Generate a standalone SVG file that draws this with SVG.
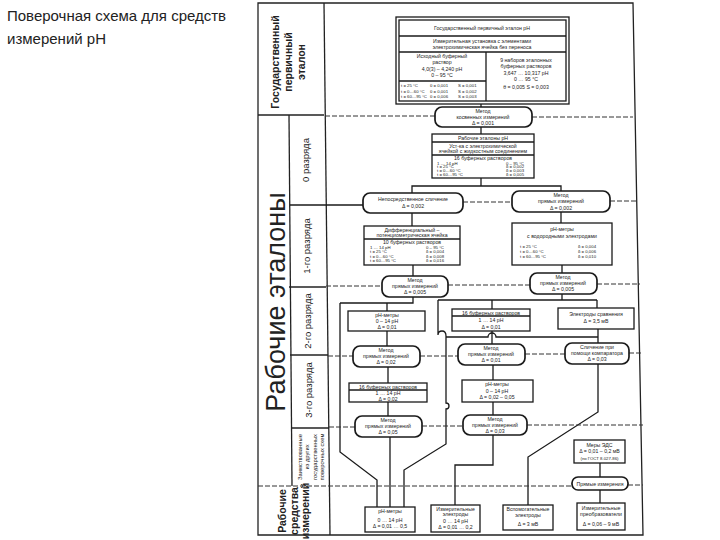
<svg xmlns="http://www.w3.org/2000/svg" width="720" height="540" viewBox="0 0 720 540">
<style>
.frame{fill:none;stroke:#222;stroke-width:1.3}
.box{fill:#fff;stroke:#1a1a1a;stroke-width:1.3}
.rbox{fill:#fff;stroke:#1a1a1a;stroke-width:1.7}
.ln{fill:none;stroke:#1a1a1a;stroke-width:1.3}
.dl{fill:none;stroke:#333;stroke-width:1;stroke-dasharray:5 2}
text{font-family:"Liberation Sans",Arial,sans-serif;fill:#222}
.t{font-size:5.2px;text-anchor:middle}
.s{font-size:4.3px}
.l{text-anchor:start}
.m{text-anchor:middle}
.big{font-size:27px;text-anchor:middle}
.lab{font-size:9.5px;text-anchor:middle}
.hd{font-size:10.5px;font-weight:bold;text-anchor:middle}
.zs{font-size:5.8px;text-anchor:middle}
</style>
<rect width="720" height="540" fill="#fff"/>

<g id="title">
<text x="7" y="21" font-size="15">Поверочная  схема для средств</text>
<text x="7" y="44" font-size="15">измерений pH</text>
</g>

<g id="frame">
<polygon class="frame" points="258,3 633,3 643,535 258,535"/>
<line class="frame" x1="324" y1="3" x2="330" y2="535"/>
<line class="frame" x1="258" y1="115" x2="324" y2="115"/>
<line class="frame" x1="289" y1="115" x2="292" y2="486"/>
<line class="frame" x1="289" y1="287" x2="326" y2="287"/>
<line class="frame" x1="290" y1="355" x2="328" y2="355"/>
<line class="frame" x1="291" y1="428" x2="329" y2="428"/>
</g>

<g id="labels">
<text class="hd" transform="translate(279,62) rotate(-90)">Государственный</text>
<text class="hd" transform="translate(292,62) rotate(-90)">первичный</text>
<text class="hd" transform="translate(305,62) rotate(-90)">эталон</text>
<text class="big" transform="translate(285,302) rotate(-90)">Рабочие эталоны</text>
<text class="lab" transform="translate(309,160) rotate(-90)">0 разряда</text>
<text class="lab" transform="translate(310,246) rotate(-90)">1-го разряда</text>
<text class="lab" transform="translate(311,321) rotate(-90)">2-го разряда</text>
<text class="lab" transform="translate(312,390) rotate(-90)">3-го разряда</text>
<text class="zs" transform="translate(302,457) rotate(-90)">Заимствованные</text>
<text class="zs" transform="translate(309,457) rotate(-90)">из других</text>
<text class="zs" transform="translate(317,457) rotate(-90)">государственных</text>
<text class="zs" transform="translate(324,457) rotate(-90)">поверочных схем</text>
<text class="hd" font-size="8.8" transform="translate(286,511) rotate(-90)">Рабочие</text>
<text class="hd" font-size="8.8" transform="translate(298,511) rotate(-90)">средства</text>
<text class="hd" font-size="8.8" transform="translate(309,511) rotate(-90)">измерений</text>
</g>

<g id="connectors">
<line class="ln" x1="290" y1="205" x2="363" y2="205"/>
<line class="ln" x1="481" y1="104" x2="481" y2="107"/>
<line class="ln" x1="481" y1="127" x2="481" y2="134"/>
<polyline class="ln" points="481,178 481,186"/>
<polyline class="ln" points="412,193 412,186 561,186 561,191"/>
<line class="ln" x1="412" y1="213" x2="412" y2="226"/>
<line class="ln" x1="561" y1="212" x2="561" y2="223"/>
<line class="ln" x1="413" y1="265" x2="413" y2="276"/>
<line class="ln" x1="562" y1="265" x2="562" y2="273"/>
<polyline class="ln" points="413,297 413,303 340,303"/>
<line class="ln" x1="387" y1="303" x2="387" y2="311"/>
<polyline class="ln" points="340,303 340,452 377,480 377,507"/>
<line class="ln" x1="387" y1="331" x2="387" y2="346"/>
<line class="ln" x1="388" y1="367" x2="388" y2="383"/>
<line class="ln" x1="388" y1="402" x2="388" y2="416"/>
<line class="ln" x1="390" y1="437" x2="390" y2="507"/>
<polyline class="ln" points="562,294 562,300"/>
<line class="ln" x1="438" y1="300" x2="597" y2="300"/>
<line class="ln" x1="492" y1="300" x2="492" y2="309"/>
<line class="ln" x1="597" y1="300" x2="597" y2="308"/>
<path class="ln" d="M438,300 L438,335 Q438,331 442,331 Q446,331 446,336 L446,403 A3,3 0 0 1 446,409 L446,444 L404,470 L404,507"/>
<path class="ln" d="M446,337 L488,337 A4,4 0 0 1 496,337 L598,337"/>
<line class="ln" x1="598" y1="329" x2="598" y2="343"/>
<line class="ln" x1="492" y1="331" x2="492" y2="344"/>
<line class="ln" x1="493" y1="365" x2="493" y2="380"/>
<line class="ln" x1="493" y1="402" x2="493" y2="415"/>
<polyline class="ln" points="493,435 493,465 455,465 455,505"/>
<polyline class="ln" points="598,364 598,412 528,457 528,505"/>
<line class="ln" x1="600" y1="463" x2="600" y2="477"/>
<line class="ln" x1="600" y1="490" x2="600" y2="503"/>

<line class="dl" x1="325" y1="116" x2="435" y2="116"/>
<line class="dl" x1="532" y1="117" x2="633" y2="117"/>
<line class="dl" x1="463" y1="202" x2="512" y2="202"/>
<line class="dl" x1="610" y1="201" x2="636" y2="201"/>
<line class="dl" x1="326" y1="286" x2="382" y2="286"/>
<line class="dl" x1="448" y1="285" x2="530" y2="285"/>
<line class="dl" x1="597" y1="284" x2="640" y2="284"/>
<line class="dl" x1="328" y1="356" x2="353" y2="356"/>
<line class="dl" x1="420" y1="356" x2="458" y2="356"/>
<line class="dl" x1="525" y1="354" x2="565" y2="354"/>
<line class="dl" x1="629" y1="353" x2="641" y2="353"/>
<line class="dl" x1="329" y1="427" x2="355" y2="427"/>
<line class="dl" x1="422" y1="426" x2="463" y2="426"/>
<line class="dl" x1="527" y1="425" x2="643" y2="425"/>
<line class="dl" x1="258" y1="486" x2="572" y2="486"/>
<line class="dl" x1="628" y1="485" x2="643" y2="485"/>
</g>

<g id="n-state">
<rect class="box" x="396" y="17" width="173" height="87" stroke-width="1.8"/>
<rect class="box" x="399" y="20" width="167" height="81"/>
<line class="ln" x1="399" y1="36" x2="566" y2="36"/>
<line class="ln" x1="399" y1="52" x2="566" y2="52"/>
<line class="ln" x1="486" y1="52" x2="486" y2="101"/>
<line class="ln" x1="399" y1="81" x2="486" y2="81"/>
<text class="t" x="482" y="30">Государственный первичный эталон pH</text>
<text class="t" x="482" y="43">Измерительная установка с элементами</text>
<text class="t" x="482" y="49">электрохимическая ячейка без переноса</text>
<text class="t" x="442" y="58">Исходный буферный</text>
<text class="t" x="442" y="64">раствор</text>
<text class="t" x="442" y="71">4,0(3) – 4,240 pH</text>
<text class="t" x="442" y="77">0 – 95 °C</text>
<text class="t s l" x="401" y="87">t = 25 °C</text>
<text class="t s l" x="401" y="92.5">t = 0…60 °C</text>
<text class="t s l" x="401" y="98">t = 60…95 °C</text>
<text class="t s l" x="430" y="87">θ = 0,001</text>
<text class="t s l" x="430" y="92.5">θ = 0,001</text>
<text class="t s l" x="430" y="98">θ = 0,006</text>
<text class="t s l" x="458" y="87">S = 0,001</text>
<text class="t s l" x="458" y="92.5">S = 0,002</text>
<text class="t s l" x="458" y="98">S = 0,003</text>
<text class="t" x="526" y="62">9 наборов эталонных</text>
<text class="t" x="526" y="68">буферных растворов</text>
<text class="t" x="526" y="75">3,647 … 10,317 pH</text>
<text class="t" x="526" y="81">0 … 95 °C</text>
<text class="t" x="526" y="89">θ = 0,005   S = 0,003</text>
</g>

<g id="n-m1">
<rect class="rbox" x="435" y="107" width="97" height="20" rx="7"/>
<text class="t" x="483" y="113">Метод</text>
<text class="t" x="483" y="119">косвенных измерений</text>
<text class="t" x="483" y="125">Δ = 0,001</text>
</g>

<g id="n-ws0">
<rect class="box" x="432" y="134" width="102" height="44"/>
<line class="ln" x1="432" y1="142" x2="534" y2="142"/>
<line class="ln" x1="432" y1="155" x2="534" y2="155"/>
<text class="t" x="483" y="140">Рабочие эталоны pH</text>
<text class="t" x="483" y="147.5">Уст-ка с электрохимической</text>
<text class="t" x="483" y="153">ячейкой с жидкостным соединением</text>
<text class="t" x="483" y="160">16 буферных растворов</text>
<text class="t s l" x="437" y="164.5">1 … 14 pH</text>
<text class="t s l" x="437" y="168.3">t = 25 °C</text>
<text class="t s l" x="437" y="172.1">t = 0…60 °C</text>
<text class="t s l" x="437" y="175.9">t = 60…95 °C</text>
<text class="t s l" x="506" y="164.5">0 – 95 °C</text>
<text class="t s l" x="506" y="168.3">δ = 0,002</text>
<text class="t s l" x="506" y="172.1">δ = 0,003</text>
<text class="t s l" x="506" y="175.9">δ = 0,005</text>
</g>

<g id="n-direct">
<rect class="rbox" x="363" y="193" width="100" height="20" rx="7"/>
<text class="t" x="413" y="201">Непосредственное сличение</text>
<text class="t" x="413" y="208">Δ = 0,002</text>
</g>

<g id="n-m2">
<rect class="rbox" x="512" y="191" width="98" height="21" rx="7"/>
<text class="t" x="561" y="197">Метод</text>
<text class="t" x="561" y="203">прямых измерений</text>
<text class="t" x="561" y="209.5">Δ = 0,002</text>
</g>

<g id="n-diff">
<rect class="box" x="364" y="226" width="96" height="39"/>
<line class="ln" x1="364" y1="239" x2="460" y2="239"/>
<text class="t" x="412" y="231.5">Дифференциальный –</text>
<text class="t" x="412" y="237">потенциометрическая ячейка</text>
<text class="t" x="412" y="244">10 буферных растворов</text>
<text class="t s l" x="370" y="248.5">1 … 14 pH</text>
<text class="t s l" x="370" y="253">t = 25 °C</text>
<text class="t s l" x="370" y="257.5">t = 0…60 °C</text>
<text class="t s l" x="370" y="262">t = 60…95 °C</text>
<text class="t s l" x="426" y="248.5">0 – 95 °C</text>
<text class="t s l" x="426" y="253">δ = 0,004</text>
<text class="t s l" x="426" y="257.5">δ = 0,008</text>
<text class="t s l" x="426" y="262">δ = 0,016</text>
</g>

<g id="n-phh">
<rect class="box" x="512" y="223" width="100" height="42"/>
<text class="t" x="562" y="231">pH-метры</text>
<text class="t" x="562" y="237.5">с водородными электродами</text>
<text class="t s l" x="520" y="248">t = 25 °C</text>
<text class="t s l" x="520" y="253">t = 0…60 °C</text>
<text class="t s l" x="520" y="258">t = 60…95 °C</text>
<text class="t s l" x="578" y="248">δ = 0,004</text>
<text class="t s l" x="578" y="253">δ = 0,006</text>
<text class="t s l" x="578" y="258">δ = 0,010</text>
</g>

<g id="n-m3">
<rect class="rbox" x="382" y="276" width="66" height="21" rx="7"/>
<text class="t" x="415" y="281.5">Метод</text>
<text class="t" x="415" y="287.5">прямых измерений</text>
<text class="t" x="415" y="294">Δ = 0,005</text>
</g>

<g id="n-m4">
<rect class="rbox" x="530" y="273" width="67" height="21" rx="7"/>
<text class="t" x="563" y="278.5">Метод</text>
<text class="t" x="563" y="284.5">прямых измерений</text>
<text class="t" x="563" y="291">Δ = 0,005</text>
</g>

<g id="n-ph2">
<rect class="box" x="348" y="311" width="77" height="20"/>
<text class="t" x="387" y="316.5">pH-метры</text>
<text class="t" x="387" y="322.5">0 – 14 pH</text>
<text class="t" x="387" y="329">Δ = 0,01</text>
</g>

<g id="n-buf2">
<rect class="box" x="452" y="309" width="78" height="22"/>
<line class="ln" x1="452" y1="316" x2="530" y2="316"/>
<text class="t" x="491" y="314.5">16 буферных растворов</text>
<text class="t" x="491" y="322">1 … 14 pH</text>
<text class="t" x="491" y="328.5">Δ = 0,01</text>
</g>

<g id="n-ref">
<rect class="box" x="558" y="308" width="76" height="21"/>
<text class="t" x="596" y="315.5">Электроды сравнения</text>
<text class="t" x="596" y="323">Δ = 3,5 мВ</text>
</g>

<g id="n-m5">
<rect class="rbox" x="353" y="346" width="67" height="21" rx="7"/>
<text class="t" x="386" y="351.5">Метод</text>
<text class="t" x="386" y="357.5">прямых измерений</text>
<text class="t" x="386" y="364">Δ = 0,02</text>
</g>

<g id="n-m6">
<rect class="rbox" x="458" y="344" width="67" height="21" rx="7"/>
<text class="t" x="491" y="349.5">Метод</text>
<text class="t" x="491" y="355.5">прямых измерений</text>
<text class="t" x="491" y="362">Δ = 0,01</text>
</g>

<g id="n-comp">
<rect class="rbox" x="565" y="343" width="64" height="21" rx="7"/>
<text class="t" x="597" y="348.5">Сличение при</text>
<text class="t" x="597" y="354.5">помощи компаратора</text>
<text class="t" x="597" y="361">Δ = 0,03</text>
</g>

<g id="n-buf3">
<rect class="box" x="349" y="383" width="78" height="19"/>
<line class="ln" x1="349" y1="390" x2="427" y2="390"/>
<text class="t" x="388" y="388.5">16 буферных растворов</text>
<text class="t" x="388" y="395">1 … 14 pH</text>
<text class="t" x="388" y="400.5">Δ = 0,02</text>
</g>

<g id="n-ph3">
<rect class="box" x="462" y="380" width="71" height="22"/>
<text class="t" x="497" y="386">pH-метры</text>
<text class="t" x="497" y="392.5">0 – 14 pH</text>
<text class="t" x="497" y="399">Δ = 0,02 – 0,05</text>
</g>

<g id="n-m7">
<rect class="rbox" x="355" y="416" width="67" height="21" rx="7"/>
<text class="t" x="388" y="421.5">Метод</text>
<text class="t" x="388" y="427.5">прямых измерений</text>
<text class="t" x="388" y="434">Δ = 0,05</text>
</g>

<g id="n-m8">
<rect class="rbox" x="463" y="415" width="64" height="20" rx="7"/>
<text class="t" x="495" y="420.5">Метод</text>
<text class="t" x="495" y="426.5">прямых измерений</text>
<text class="t" x="495" y="432.5">Δ = 0,03</text>
</g>

<g id="n-emf">
<rect class="box" x="574" y="440" width="51" height="23"/>
<text class="t" x="599.5" y="446.5">Меры ЭДС</text>
<text class="t" x="599.5" y="453">Δ = 0,01 – 0,2 мВ</text>
<text class="t s" x="599.5" y="459.5">(по ГОСТ 8.027-86)</text>
</g>

<g id="n-direct2">
<rect class="rbox" x="572" y="477" width="56" height="13" rx="6"/>
<text class="t" font-size="6" x="600" y="485.5">Прямые измерения</text>
</g>

<g id="n-phw">
<rect class="box" x="365" y="507" width="50" height="25"/>
<text class="t" x="390" y="513">pH-метры</text>
<text class="t" x="390" y="521.5">0 … 14 pH</text>
<text class="t" x="390" y="528">Δ = 0,01 … 0,5</text>
</g>

<g id="n-meas">
<rect class="box" x="431" y="505" width="49" height="27"/>
<text class="t" x="455.5" y="510.5">Измерительные</text>
<text class="t" x="455.5" y="516">электроды</text>
<text class="t" x="455.5" y="522.5">0 … 14 pH</text>
<text class="t" x="455.5" y="528.5">Δ = 0,01 … 0,2</text>
</g>

<g id="n-aux">
<rect class="box" x="503" y="505" width="50" height="25"/>
<text class="t" x="528" y="511">Вспомогательные</text>
<text class="t" x="528" y="517">электроды</text>
<text class="t" x="528" y="526">Δ = 3 мВ</text>
</g>

<g id="n-conv">
<rect class="box" x="577" y="503" width="48" height="27"/>
<text class="t" x="601" y="510">Измерительные</text>
<text class="t" x="601" y="516">преобразователи</text>
<text class="t" x="601" y="526">Δ = 0,06 – 9 мВ</text>
</g>
</svg>
